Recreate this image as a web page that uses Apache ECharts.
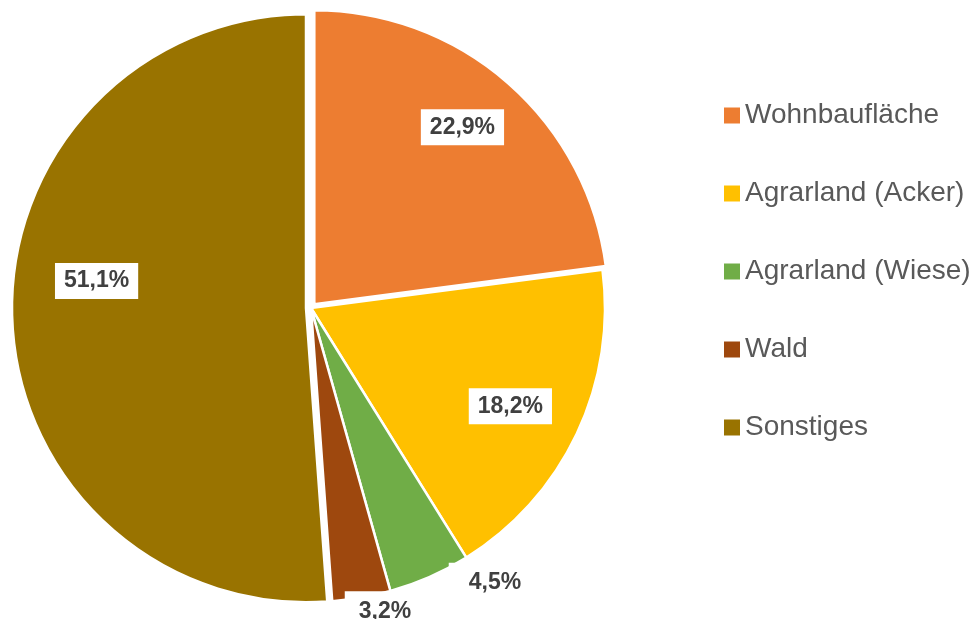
<!DOCTYPE html>
<html>
<head>
<meta charset="utf-8">
<script src="https://cdn.jsdelivr.net/npm/echarts@6/dist/echarts.min.js"></script>
<style>
html,body{margin:0;padding:0;background:#fff;}
#chart{width:974px;height:619px;}
</style>
</head>
<body>
<div id="chart"></div>
<script>
const categories = ['Wohnbaufläche', 'Agrarland (Acker)', 'Agrarland (Wiese)', 'Wald', 'Sonstiges'];
const values = [22.9, 18.2, 4.5, 3.2, 51.1];
const colors = ['#ED7D31', '#FFC000', '#70AD47', '#9E480E', '#997300'];

const R = 294;
const center = [311, 308];
const labelShift = [[6, -15], [0, 4], [95, 73], [36, 86], [6, -35]];
const fmt = p => p.value.toFixed(1).replace('.', ',') + '%';

const chart = echarts.init(document.getElementById('chart'), null, {renderer: 'canvas'});
chart.setOption({
  animation: false,
  backgroundColor: '#ffffff',
  legend: {
    orient: 'vertical',
    left: 719,
    top: 95,
    itemWidth: 16,
    itemHeight: 16,
    itemGap: 47,
    icon: 'rect',
    data: categories,
    itemStyle: {borderWidth: 0},
    textStyle: {fontFamily: 'Liberation Sans, Arial, sans-serif', fontSize: 28, color: '#595959', lineHeight: 31}
  },
  series: [
    {
      type: 'pie',
      center: center,
      radius: [0, R],
      startAngle: 90,
      clockwise: true,
      selectedMode: 'multiple',
      selectedOffset: 5,
      silent: true,
      itemStyle: {borderColor: '#ffffff', borderWidth: 2.5},
      label: {show: false},
      labelLine: {show: false},
      emphasis: {disabled: true},
      data: categories.map((c, i) => {
        const d = {name: c, value: values[i], itemStyle: {color: colors[i]}};
        if (i === 4) d.selected = true;
        if (i === 0) { d.selected = true; d.selectedOffset = 3; }
        return d;
      })
    },
    {
      type: 'pie',
      center: center,
      radius: [R * 0.48, R],
      startAngle: 90,
      clockwise: true,
      silent: true,
      legendHoverLink: false,
      itemStyle: {color: 'rgba(0,0,0,0)', borderWidth: 0},
      emphasis: {disabled: true},
      labelLine: {show: false},
      label: {
        show: true,
        position: 'inside',
        formatter: fmt,
        fontFamily: 'Liberation Sans, Arial, sans-serif',
        fontWeight: 'bold',
        fontSize: 23,
        lineHeight: 24,
        color: '#404040',
        backgroundColor: '#ffffff',
        padding: [6, 9, 6, 9]
      },
      labelLayout: function (p) {
        const s = labelShift[p.dataIndex];
        return {dx: s[0], dy: s[1], hideOverlap: false};
      },
      data: categories.map((c, i) => {
        const d = {name: c, value: values[i]};
        if (i === 2) d.label = {padding: [8, 20, 8, 20]};
        if (i === 3) d.label = {padding: [8, 14, 8, 14]};
        return d;
      })
    }
  ]
});
</script>
</body>
</html>
